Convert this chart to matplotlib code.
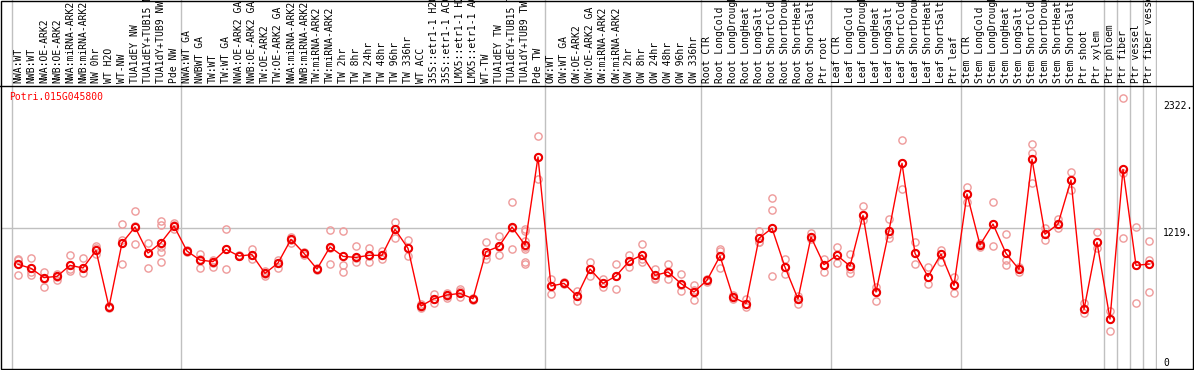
import numpy as np
import matplotlib
matplotlib.use("Agg")
import matplotlib.pyplot as plt
from matplotlib.lines import Line2D
from matplotlib.patches import Rectangle
import matplotlib.transforms as mtransforms

plt.rcParams['font.family'] = ['DejaVu Sans Mono']

gene = "Potri.015G045800"

samples = [
    "NWA:WT", "NWB:WT", "NWA:OE-ARK2", "NWB:OE-ARK2", "NWA:miRNA-ARK2", "NWB:miRNA-ARK2",
    "NW 0hr", "WT H2O", "WT-NW", "TUA1dEY NW", "TUA1dEY+TUB15 NW", "TUA1dY+TUB9 NW", "Pde NW",
    "NWA:WT GA", "NWBWT GA", "TW:WT", "TW:WT GA", "NWA:OE-ARK2 GA", "NWB:OE-ARK2 GA",
    "TW:OE-ARK2", "TW:OE-ARK2 GA", "NWA:miRNA-ARK2", "NWB:miRNA-ARK2", "TW:miRNA-ARK2",
    "TW:miRNA-ARK2", "TW 2hr", "TW 8hr", "TW 24hr", "TW 48hr", "TW 96hr", "TW 336hr", "WT ACC",
    "35S::etr1-1 H2O", "35S::etr1-1 ACC", "LMX5::etr1-1 H2O", "LMX5::etr1-1 ACC", "WT-TW",
    "TUA1dEY TW", "TUA1dEY+TUB15 TW", "TUA1dY+TUB9 TW", "Pde TW",
    "OW:WT", "OW:WT GA", "OW:OE-ARK2", "OW:OE-ARK2 GA", "OW:miRNA-ARK2", "OW:miRNA-ARK2",
    "OW 2hr", "OW 8hr", "OW 24hr", "OW 48hr", "OW 96hr", "OW 336hr",
    "Root CTR", "Root LongCold", "Root LongDrought", "Root LongHeat", "Root LongSalt",
    "Root ShortCold", "Root ShortDrought", "Root ShortHeat", "Root ShortSalt", "Ptr root",
    "Leaf CTR", "Leaf LongCold", "Leaf LongDrought", "Leaf LongHeat", "Leaf LongSalt",
    "Leaf ShortCold", "Leaf ShortDrought", "Leaf ShortHeat", "Leaf ShortSalt", "Ptr leaf",
    "Stem CTR", "Stem LongCold", "Stem LongDrought", "Stem LongHeat", "Stem LongSalt",
    "Stem ShortCold", "Stem ShortDrought", "Stem ShortHeat", "Stem ShortSalt", "Ptr shoot",
    "Ptr xylem", "Ptr phloem", "Ptr fiber", "Ptr vessel", "Ptr fiber vessel",
]

# columns per separated block (grey separators)
group_sizes = [13, 28, 12, 10, 10, 11, 1, 1, 1, 1]

means = [
    906, 871, 790, 801, 897, 874, 1027, 535, 1091, 1230, 1004, 1094, 1239,
    1021, 943, 929, 1036, 978, 990, 827, 917, 1123, 1001, 865, 1057, 975, 966, 984, 984,
    1210, 1045, 543, 607, 639, 653, 607, 1016, 1062, 1230, 1074, 1839,
    717, 740, 630, 865, 740, 804, 932, 987, 810, 839, 738, 665,
    767, 978, 621, 565, 1132, 1220, 881, 604, 1143, 903,
    984, 891, 1332, 665, 1198, 1784, 1001, 798, 995, 722,
    1517, 1074, 1256, 1001, 862, 1819, 1168, 1256, 1639, 514, 1097,
    430, 1731, 897, 908,
]

reps = [
    [955, 943, 810], [958, 839, 816], [842, 781, 709], [819, 798, 770], [984, 868, 848],
    [964, 877, 827], [1065, 1048, 993], [543, 532, 523], [1253, 1117, 906], [1366, 1239, 1080],
    [1088, 1007, 874], [1282, 1245, 1094, 1057, 1016, 926], [1268, 1245, 1216],
    [1027, 1016, 1021], [993, 949, 877], [943, 914, 885], [1210, 1036, 865], [984, 975, 975],
    [1036, 990, 949], [848, 825, 804], [943, 920, 877], [1146, 1117, 1094], [1010, 1001, 990],
    [877, 865, 853], [1201, 1051, 906], [1193, 897, 839], [1062, 964, 923], [1045, 978, 929],
    [1019, 984, 949], [1274, 1210, 1137], [1117, 1045, 978], [558, 535, 523], [650, 601, 566],
    [659, 630, 613], [694, 670, 619], [613, 607, 598], [1100, 984, 949], [1152, 1059, 984],
    [1448, 1224, 1036], [1210, 1195, 1111, 1059, 1042, 924, 909], [2021, 1839, 1645],
    [781, 717, 645], [748, 740, 733], [674, 630, 587], [926, 865, 804], [775, 740, 711],
    [906, 804, 694], [990, 932, 882], [1082, 952, 929], [862, 787, 781], [906, 830, 781],
    [819, 722, 674], [723, 680, 593],
    [780, 767, 755], [1042, 1020, 871], [640, 621, 600], [601, 563, 537], [1195, 1103, 1098],
    [1480, 1375, 804], [949, 882, 822], [630, 604, 558], [1181, 1143, 1124], [952, 903, 842],
    [1056, 984, 914], [995, 862, 827], [1410, 1332, 1291], [706, 665, 587], [1297, 1168, 1134],
    [1984, 1784, 1564], [1097, 1001, 910], [879, 798, 735], [1030, 995, 929], [793, 722, 654],
    [1574, 1517, 1447], [1088, 1074, 1053], [1445, 1256, 1065], [1166, 943, 897], [885, 862, 839],
    [1951, 1876, 1616], [1224, 1168, 1113], [1297, 1256, 1224], [1708, 1639, 1552],
    [566, 514, 480], [1183, 1097, 1050], [500, 430, 323], [2350, 1703, 1132],
    [1226, 897, 566], [1106, 943, 662],
]

tick_vals = [2322, 1219, 0]
tick_text = ["2322.", "1219.", "0"]

#----------------------------- layout in pixels -----------------------------
W, H = 1194, 370
PL, PR, PT, PB = 1, 1157, 86, 368.5      # plot box
X0, DX = 18, 13                          # centre of first column, column pitch

def box(l, t, r, b):
    return [l / W, (H - b) / H, (r - l) / W, (b - t) / H]

fig = plt.figure(figsize=(W / 100, H / 100), dpi=100)
ax = fig.add_axes(box(PL, PT, PR, PB))
top = fig.add_axes(box(PL, 0, PR, PT))

xlim = ((PL - X0) / DX, (PR - X0) / DX)
ax.set_xlim(*xlim)
top.set_xlim(*xlim)
ymax = 1219 * (PB - PT) / 140.2
ax.set_ylim(0, ymax)
top.set_ylim(0, 1)
ax.set_axis_off()
top.set_axis_off()

x = np.arange(len(samples))

# separators
bounds = np.concatenate([[0], np.cumsum(group_sizes)]) - 0.5
for b in bounds:
    ax.axvline(b, color='#c0c0c0', lw=1.0, zorder=1)
    top.axvline(b, color='#c0c0c0', lw=1.0, zorder=1)
ax.axhline(1219, color='#c0c0c0', lw=1.0, zorder=1)

# replicates, line, means
rx = np.repeat(x, [len(r) for r in reps])
ry = np.concatenate(reps)
ax.plot(rx, ry, 'o', ms=5.2, mfc='none', mec='#ee9a9a', mew=1.0, zorder=2, clip_on=False)
ax.plot(x, means, '-', color='#ff0000', lw=1.0, zorder=3)
ax.plot(x, means, 'o', ms=5.2, mfc='none', mec='#ee0000', mew=1.5, zorder=4)

# sample labels
for k, s in enumerate(samples):
    top.text(k, 3 / PT, s, rotation=90, ha='center', va='bottom', fontsize=7,
             color='black', clip_on=False)

fig.text(9.5 / W, 1 - 97 / H, gene, color='#ff0000', fontsize=7, ha='left', va='center')

# value labels on the right
trans = mtransforms.blended_transform_factory(ax.transAxes, ax.transData)
for v, s in zip(tick_vals, tick_text):
    ax.text((1163 - PL) / (PR - PL), v, s, transform=trans, fontsize=7, ha='left',
            va='top' if v > 0 else 'bottom', clip_on=False)

# frame
fig.add_artist(Rectangle((0.5 / W, (H - PB) / H), (W - 1.5) / W, (PB - 0.5) / H,
                         fill=False, ec='black', lw=1.0, transform=fig.transFigure))
fig.add_artist(Line2D([0, 1], [(H - PT) / H] * 2, color='black', lw=1.0,
                      transform=fig.transFigure))

fig.savefig("out.png", dpi=100)
